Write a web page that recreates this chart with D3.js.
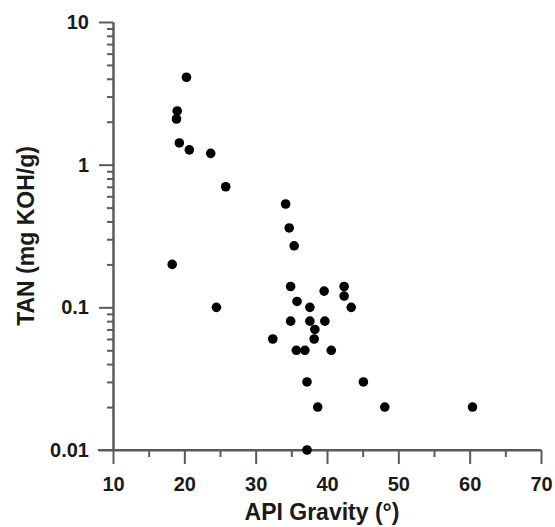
<!DOCTYPE html>
<html>
<head>
<meta charset="utf-8">
<script src="https://cdn.jsdelivr.net/npm/d3@7"></script>
<style>
  body { margin: 0; background: #fff; }
  svg text { font-family: "Liberation Sans", Arial, sans-serif; font-weight: bold; fill: #1a1a1a; }
</style>
</head>
<body>
<div id="chart"></div>
<script>
// API gravity (deg) of each sample
const apiGravity = [
  20.3, 19.0, 18.9, 19.3, 20.7, 23.7, 25.8, 18.3, 24.5,
  34.2, 34.7, 35.4, 34.9, 35.8, 39.6, 42.4, 42.4, 43.4, 37.6,
  34.9, 37.6, 39.7, 38.3, 38.2, 32.4, 35.7, 36.9, 40.6,
  37.2, 45.1, 38.7, 48.1, 60.4, 37.2
];
// total acid number (mg KOH/g) of each sample
const tan = [
  4.1, 2.38, 2.09, 1.42, 1.27, 1.2, 0.7, 0.2, 0.1,
  0.53, 0.36, 0.27, 0.14, 0.11, 0.13, 0.14, 0.12, 0.1, 0.1,
  0.08, 0.08, 0.08, 0.07, 0.06, 0.06, 0.05, 0.05, 0.05,
  0.03, 0.03, 0.02, 0.02, 0.02, 0.01
];
const xTicks = [10, 20, 30, 40, 50, 60, 70];
const xMinorTicks = [15, 25, 35, 45, 55, 65];
const yTicks = [0.01, 0.1, 1, 10];
const yTickLabels = ["0.01", "0.1", "1", "10"];

const width = 555, height = 527;
const plotLeft = 113, plotRight = 541, plotTop = 22, plotBottom = 450;

const svg = d3.select("#chart").append("svg")
  .attr("width", width)
  .attr("height", height);

const x = d3.scaleLinear().domain([10, 70]).range([plotLeft, plotRight]);
const y = d3.scaleLog().domain([0.01, 10]).range([plotBottom, plotTop]);

// minor ticks for the log axis: 2..9 in every decade
const yMinorTicks = [];
yTicks.slice(0, -1).forEach(d => {
  for (let k = 2; k <= 9; k++) yMinorTicks.push(+(d * k).toPrecision(3));
});

const axisColor = "#5a5a5a";

const styleAxis = g => {
  g.select(".domain").attr("stroke", axisColor).attr("stroke-width", 2);
  g.selectAll(".tick line").attr("stroke", axisColor).attr("stroke-width", 2);
  g.selectAll(".tick text").attr("font-size", 20).attr("fill", "#1a1a1a");
};

// x axis
svg.append("g")
  .attr("transform", `translate(0,${plotBottom})`)
  .call(d3.axisBottom(x).tickValues(xMinorTicks).tickSize(7).tickSizeOuter(0).tickFormat(""))
  .call(styleAxis);

svg.append("g")
  .attr("transform", `translate(0,${plotBottom})`)
  .call(d3.axisBottom(x).tickValues(xTicks).tickSize(14).tickSizeOuter(0).tickPadding(13))
  .call(styleAxis)
  .call(g => g.select(".domain").attr("d", `M${plotLeft - 15},0H${plotRight}`));

// y axis
svg.append("g")
  .attr("transform", `translate(${plotLeft},0)`)
  .call(d3.axisLeft(y).tickValues(yMinorTicks).tickSize(6).tickSizeOuter(0).tickFormat(""))
  .call(styleAxis);

svg.append("g")
  .attr("transform", `translate(${plotLeft},0)`)
  .call(d3.axisLeft(y).tickValues(yTicks).tickSize(14).tickSizeOuter(0).tickPadding(10)
    .tickFormat((d, i) => yTickLabels[i]))
  .call(styleAxis);

// data points
svg.append("g")
  .selectAll("circle")
  .data(d3.range(apiGravity.length))
  .join("circle")
  .attr("cx", i => x(apiGravity[i]))
  .attr("cy", i => y(tan[i]))
  .attr("r", 4.8)
  .attr("fill", "#000");

// axis titles
svg.append("text")
  .attr("x", 322)
  .attr("y", 520)
  .attr("text-anchor", "middle")
  .attr("font-size", 23)
  .text("API Gravity (°)");

svg.append("text")
  .attr("transform", `translate(34,${(plotTop + plotBottom) / 2}) rotate(-90)`)
  .attr("text-anchor", "middle")
  .attr("font-size", 23)
  .text("TAN (mg KOH/g)");
</script>
</body>
</html>
